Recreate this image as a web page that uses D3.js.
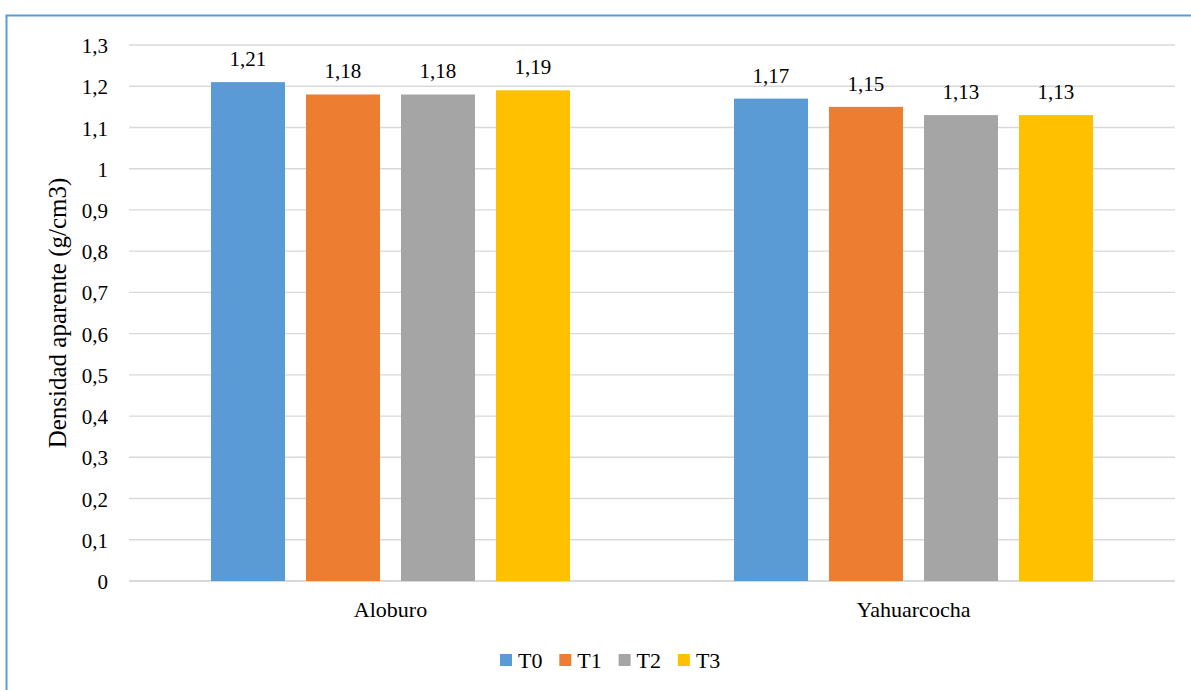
<!DOCTYPE html>
<html>
<head>
<meta charset="utf-8">
<script src="https://cdn.jsdelivr.net/npm/d3@7"></script>
<style>
  html, body { margin: 0; padding: 0; background: #fff; }
  svg { display: block; }
  svg text { font-family: "Liberation Serif", "Times New Roman", Times, "DejaVu Serif", serif; }
</style>
</head>
<body>
<svg id="chart" width="1191" height="690"></svg>
<script>
// Bulk density by site and treatment
const categories = ["Aloburo", "Yahuarcocha"];
const series = ["T0", "T1", "T2", "T3"];
const valuesT0 = [1.21, 1.17];
const valuesT1 = [1.18, 1.15];
const valuesT2 = [1.18, 1.13];
const valuesT3 = [1.19, 1.13];
const yTicks = [0, 0.1, 0.2, 0.3, 0.4, 0.5, 0.6, 0.7, 0.8, 0.9, 1, 1.1, 1.2, 1.3];
const yTitle = "Densidad aparente (g/cm3)";
const colors = ["#5B9BD5", "#ED7D31", "#A5A5A5", "#FFC000"];

const seriesValues = [valuesT0, valuesT1, valuesT2, valuesT3];
const fmt = v => d3.format(".2~f")(v).replace(".", ",");
const serif = '"Liberation Serif", "Times New Roman", Times, "DejaVu Serif", serif';

const svg = d3.select("#chart");
const W = 1191, H = 690;
const plot = { left: 129, right: 1175, top: 45, bottom: 581 };

// outer frame
svg.append("rect")
  .attr("x", 6.5).attr("y", 15.5)
  .attr("width", W).attr("height", H)
  .attr("fill", "none")
  .attr("stroke", "#5B9BD5")
  .attr("stroke-width", 2);

const y = d3.scaleLinear().domain([0, 1.3]).range([plot.bottom, plot.top]);

const x0 = d3.scaleBand()
  .domain(categories)
  .range([plot.left, plot.right])
  .paddingInner(0.2734)
  .paddingOuter(0.1367);

const x1 = d3.scaleBand()
  .domain(series)
  .range([0, x0.bandwidth()])
  .paddingInner(0.221)
  .paddingOuter(0.1105);

// gridlines
svg.append("g")
  .selectAll("line")
  .data(yTicks)
  .join("line")
  .attr("x1", plot.left).attr("x2", plot.right)
  .attr("y1", d => y(d)).attr("y2", d => y(d))
  .attr("stroke", "#d9d9d9")
  .attr("stroke-width", d => d === 0 ? 2 : 1.4);

// y tick labels
const yAxis = d3.axisLeft(y).tickValues(yTicks).tickSize(0).tickPadding(0)
  .tickFormat(d => fmt(d));
const gy = svg.append("g")
  .attr("transform", `translate(${108},0)`)
  .call(yAxis);
gy.attr("font-family", null).attr("font-size", null);
gy.select(".domain").remove();
gy.selectAll("text")
  .style("font-family", serif)
  .attr("font-size", 21)
  .attr("fill", "#000")
  .attr("dy", "0.36em");

// bars
const groups = svg.append("g")
  .selectAll("g")
  .data(categories)
  .join("g")
  .attr("transform", d => `translate(${x0(d)},0)`);

groups.selectAll("rect")
  .data((d, i) => series.map((s, j) => ({ s, j, v: seriesValues[j][i] })))
  .join("rect")
  .attr("x", d => x1(d.s))
  .attr("width", x1.bandwidth())
  .attr("y", d => y(d.v))
  .attr("height", d => y(0) - y(d.v))
  .attr("fill", d => colors[d.j]);

groups.selectAll("text")
  .data((d, i) => series.map((s, j) => ({ s, j, v: seriesValues[j][i] })))
  .join("text")
  .attr("x", d => x1(d.s) + x1.bandwidth() / 2)
  .attr("y", d => y(d.v) - 16)
  .attr("text-anchor", "middle")
  .style("font-family", serif)
  .attr("font-size", 21)
  .attr("fill", "#000")
  .text(d => fmt(d.v));

// category labels
const xAxis = d3.axisBottom(x0).tickSize(0).tickPadding(0);
const gx = svg.append("g")
  .attr("transform", `translate(0,${plot.bottom})`)
  .call(xAxis);
gx.attr("font-family", null).attr("font-size", null);
gx.select(".domain").remove();
gx.selectAll("text")
  .style("font-family", serif)
  .attr("font-size", 22)
  .attr("fill", "#000")
  .attr("dy", null)
  .attr("y", 36);

// y axis title
svg.append("text")
  .attr("transform", `translate(${66},${(plot.top + plot.bottom) / 2}) rotate(-90)`)
  .attr("text-anchor", "middle")
  .style("font-family", serif)
  .attr("font-size", 25)
  .attr("fill", "#000")
  .text(yTitle);

// legend
const legend = svg.append("g").attr("transform", `translate(${500},${660})`);
const item = legend.selectAll("g")
  .data(series)
  .join("g")
  .attr("transform", (d, i) => `translate(${i * 59.3},0)`);
item.append("rect")
  .attr("x", 0).attr("y", -6)
  .attr("width", 12).attr("height", 12)
  .attr("fill", (d, i) => colors[i]);
item.append("text")
  .attr("x", 18).attr("y", 0)
  .attr("dy", "0.35em")
  .style("font-family", serif)
  .attr("font-size", 22)
  .attr("fill", "#000")
  .text(d => d);
</script>
</body>
</html>
